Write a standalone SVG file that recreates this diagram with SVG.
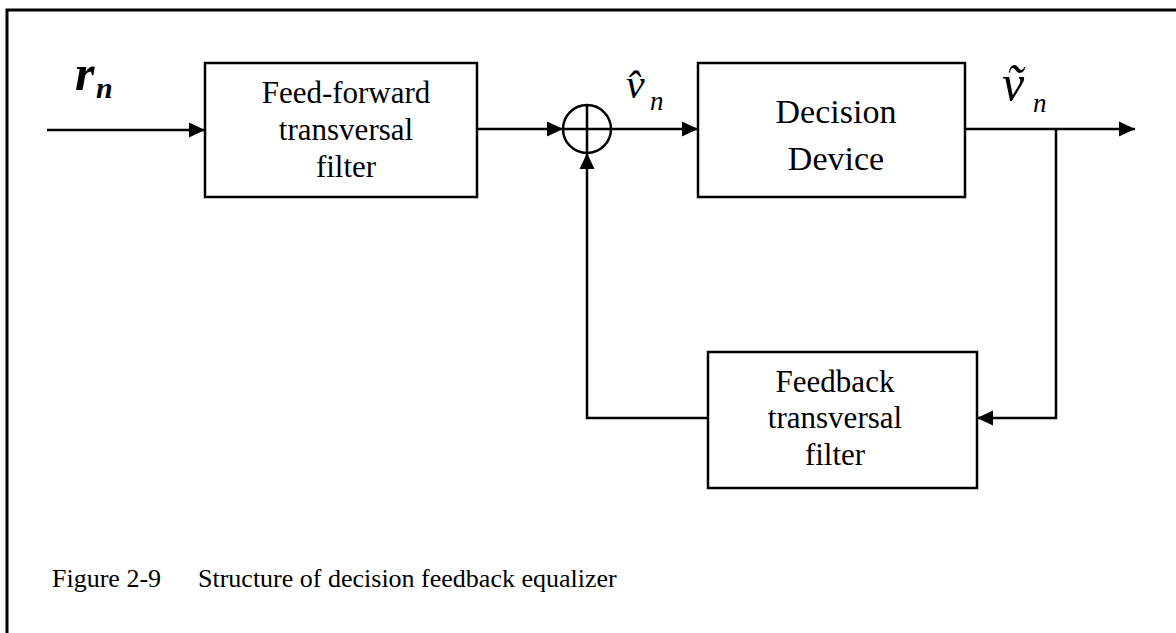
<svg xmlns="http://www.w3.org/2000/svg" width="1176" height="633" viewBox="0 0 1176 633">
  <style>
    .box { fill: #fff; stroke: #000; stroke-width: 2.5; }
    .wire { fill: none; stroke: #000; stroke-width: 2.5; }
    .lbl { font-family: "Liberation Serif", "Times New Roman", serif; fill: #000; text-anchor: middle; }
    .math { font-family: "Liberation Serif", "Times New Roman", serif; font-style: italic; fill: #000; }
    .cap { font-family: "Liberation Serif", "Times New Roman", serif; font-size: 26px; fill: #000; }
  </style>
  <defs>
    <marker id="arrow" markerUnits="userSpaceOnUse" markerWidth="17" markerHeight="17" refX="16" refY="8.5" orient="auto">
      <path d="M0,1 L16,8.5 L0,16 z" fill="#000"/>
    </marker>
  </defs>

  <rect width="1176" height="633" fill="#fff"/>

  <!-- page frame: top and left rules only -->
  <path d="M7,633 V10 H1176" fill="none" stroke="#000" stroke-width="3"/>

  <!-- connectors -->
  <g id="connectors">
    <path class="wire" d="M47,130 H205" marker-end="url(#arrow)"/>
    <path class="wire" d="M477,129 H563" marker-end="url(#arrow)"/>
    <path class="wire" d="M611,129 H698" marker-end="url(#arrow)"/>
    <path class="wire" d="M965,129 H1135" marker-end="url(#arrow)"/>
    <path class="wire" d="M1056,129 V418 H977" marker-end="url(#arrow)"/>
    <path class="wire" d="M708,418 H587 V153" marker-end="url(#arrow)"/>
  </g>

  <!-- input signal label r_n -->
  <g id="label-rn">
    <text class="math" font-weight="bold"><tspan x="75" y="90" font-size="50">r</tspan><tspan x="96" y="98" font-size="30">n</tspan></text>
  </g>

  <g id="feedforward-filter">
    <rect class="box" x="205" y="63" width="272" height="134"/>
    <text class="lbl" font-size="31" x="346" y="103">Feed-forward</text>
    <text class="lbl" font-size="31" x="346" y="140">transversal</text>
    <text class="lbl" font-size="31" x="346" y="177">filter</text>
  </g>

  <g id="summer">
    <circle cx="587" cy="129" r="24" fill="none" stroke="#000" stroke-width="2.5"/>
    <path class="wire" d="M563,129 H611 M587,105 V153"/>
  </g>

  <!-- equalizer output estimate: v-hat_n (combining circumflex) -->
  <g id="label-vhat">
    <text class="math"><tspan x="626" y="98" font-size="42">v̂</tspan><tspan x="650" y="110" font-size="27">n</tspan></text>
  </g>

  <g id="decision-device">
    <rect class="box" x="698" y="63" width="267" height="134"/>
    <text class="lbl" font-size="34" x="836" y="123">Decision</text>
    <text class="lbl" font-size="34" x="836" y="170">Device</text>
  </g>

  <!-- decided symbol: v-tilde_n (combining tilde) -->
  <g id="label-vtilde">
    <text class="math"><tspan x="1002" y="100" font-size="50">ṽ</tspan><tspan x="1033" y="112" font-size="27">n</tspan></text>
  </g>

  <g id="feedback-filter">
    <rect class="box" x="708" y="352" width="269" height="136"/>
    <text class="lbl" font-size="31" x="835" y="392">Feedback</text>
    <text class="lbl" font-size="31" x="835" y="428">transversal</text>
    <text class="lbl" font-size="31" x="835" y="465">filter</text>
  </g>

  <g id="caption">
    <text class="cap" x="52" y="587">Figure 2-9</text>
    <text class="cap" x="198" y="587">Structure of decision feedback equalizer</text>
  </g>
</svg>
